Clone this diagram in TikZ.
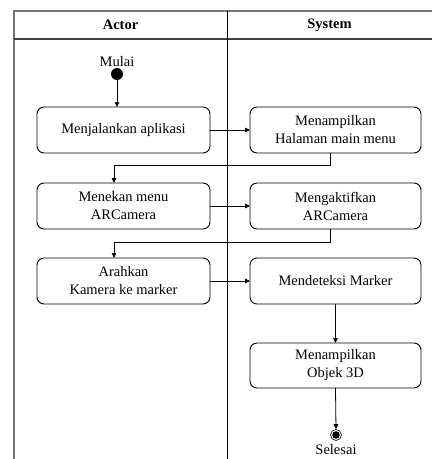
\documentclass[tikz,border=0pt]{standalone}
\usepackage{fontspec}
\setmainfont{Liberation Serif}
\usetikzlibrary{arrows.meta,positioning}
\tikzset{
  act/.style={draw, rounded corners=7pt, line width=0.9pt, inner sep=0pt, outer sep=0pt,
    minimum height=46pt, align=center, font=\fontsize{14.5}{18}\selectfont},
  arr/.style={-{Triangle[length=5pt,width=4.5pt]}, line width=0.8pt},
  lane/.style={line width=1.4pt, draw=black!55},
  hdr/.style={font=\fontsize{14.5}{16}\selectfont\bfseries},
  lbl/.style={font=\fontsize{14.5}{16}\selectfont, inner sep=0pt},
}
\begin{document}
\begin{tikzpicture}[x=1pt,y=-1pt]
\useasboundingbox (0,0) rectangle (432,459);
% swimlane frame
\draw[lane] (14,459) -- (14,11) -- (432,11);
\draw[line width=1.2pt, draw=black!75] (14,39) -- (432,39);
\draw[line width=0.7pt] (227,11) -- (227,459);
\node[hdr] (hA) at (120.5,25) {Actor};
\node[hdr] (hS) at (329.5,25) {System};
% start and end
\node[lbl] (mulai) at (117,62) {Mulai};
\node[circle, fill=black, inner sep=0pt, minimum size=12pt] (start) at (117,74) {};
\node[circle, draw, line width=0.6pt, inner sep=0pt, minimum size=11pt] (end) at (336,435) {};
\fill (end.center) circle (3.8pt);
\node[lbl] (selesai) at (336,450) {Selesai};
% activities
\node[act, minimum width=173pt] (b1) at (123.5,130) {Menjalankan aplikasi};
\node[act, minimum width=171pt] (b2) at (335.5,130) {Menampilkan\\Halaman main menu};
\node[act, minimum width=173pt] (b3) at (123.5,206) {Menekan menu\\ARCamera};
\node[act, minimum width=171pt] (b4) at (335.5,206) {Mengaktifkan\\ARCamera};
\node[act, minimum width=173pt] (b5) at (123.5,281) {Arahkan\\Kamera ke marker};
\node[act, minimum width=171pt] (b6) at (335.5,281) {Mendeteksi Marker};
\node[act, minimum width=171pt, minimum height=45pt] (b7) at (335.5,365.5) {Menampilkan\\Objek 3D};
% connectors
\coordinate (k1) at (330,165);
\coordinate (k2) at (330,242);
\coordinate (d1) at (114,0);
\draw[arr] (start) -- (start |- b1.north);
\draw[arr] (b1.east) -- (b2.west);
\draw[arr] (b2.south -| k1) -- (k1) -| (b3.north -| d1);
\draw[arr] (b3.east) -- (b4.west);
\draw[arr] (b4.south -| k2) -- (k2) -| (b5.north -| d1);
\draw[arr] (b5.east) -- (b6.west);
\draw[arr] (b6.south) -- (b7.north);
\draw[arr] (b7.south) -- (end.north);
\end{tikzpicture}
\end{document}
